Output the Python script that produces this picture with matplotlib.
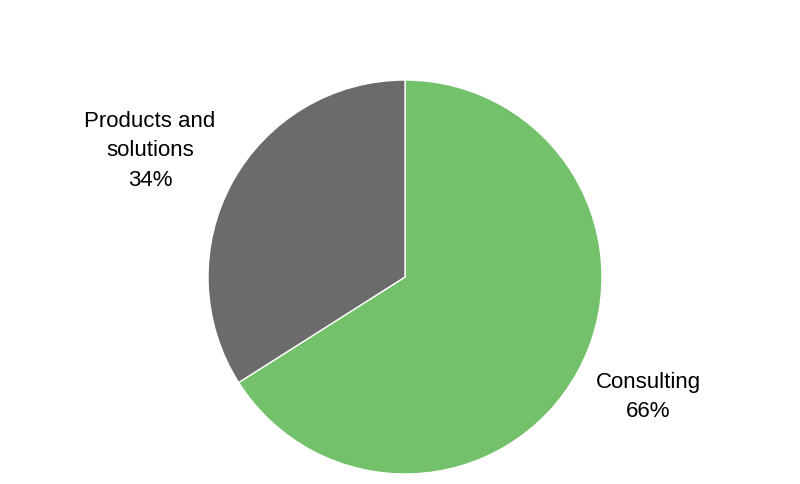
import matplotlib
matplotlib.use("Agg")
import matplotlib.pyplot as plt

categories = ["Consulting", "Products and\nsolutions"]
shares = [66, 34]
colors = ["#73C16A", "#6B6B6B"]

plt.rcParams['font.family'] = ['Liberation Sans', 'DejaVu Sans']

fig = plt.figure(figsize=(8, 4.84), dpi=100)
ax = fig.add_axes([0, 0, 1, 1])

wedges, _ = ax.pie(shares, colors=colors, startangle=90, counterclock=False,
                   center=(405, 484 - 277), radius=197,
                   wedgeprops=dict(edgecolor='white', linewidth=1))
ax.set_xlim(0, 800)
ax.set_ylim(0, 484)
ax.set_aspect('equal')
ax.axis('off')

label_pos = [(648, 484 - 397), (150, 484 - 151)]
for cat, val, (x, y) in zip(categories, shares, label_pos):
    ax.text(x, y, f"{cat}\n{val}%", ha='center', va='center', fontsize=16,
            linespacing=1.55, color='black')

fig.savefig("out.png", dpi=100)
